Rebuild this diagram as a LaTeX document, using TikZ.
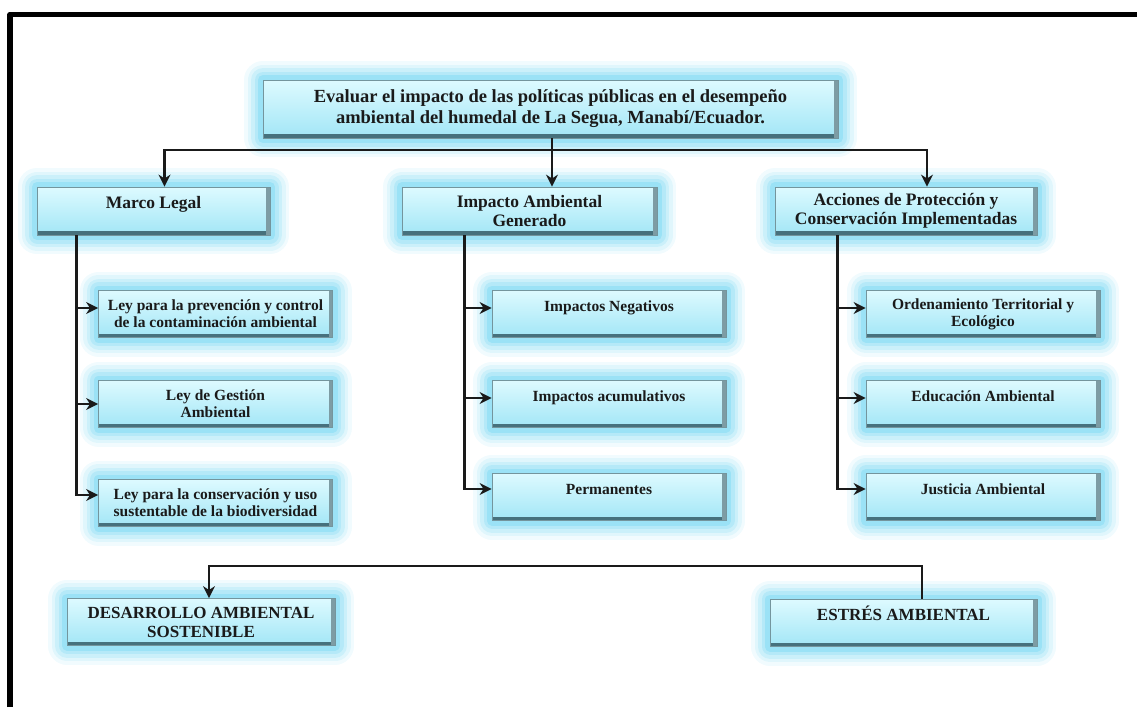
\documentclass[tikz,border=0pt]{standalone}
\usepackage{fontspec}
\setmainfont{Liberation Serif}
\usetikzlibrary{arrows.meta}
\definecolor{cajaA}{HTML}{DDFAFF}
\definecolor{cajaB}{HTML}{A2E6F6}
\definecolor{borde}{HTML}{46717D}
\definecolor{brillo}{HTML}{34C4EC}
\definecolor{tinta}{HTML}{1A1A1A}

\begin{document}
\begin{tikzpicture}[x=1pt, y=-1pt,
  caja/.style={rectangle, inner sep=0pt, align=center, text=tinta,
    top color=cajaA, bottom color=cajaB, draw=borde!75, line width=0.8pt,
    preaction={draw=brillo, draw opacity=.07, line width=38pt, line join=round},
    preaction={draw=brillo, draw opacity=.09, line width=31pt, line join=round},
    preaction={draw=brillo, draw opacity=.12, line width=24pt, line join=round},
    preaction={draw=brillo, draw opacity=.15, line width=17pt, line join=round},
    preaction={draw=brillo, draw opacity=.20, line width=10pt, line join=round},
    path picture={
      \fill[borde] (path picture bounding box.south west) rectangle ([yshift=4pt]path picture bounding box.south east);
      \fill[borde!70] (path picture bounding box.south east) rectangle ([xshift=-4pt]path picture bounding box.north east);}},
  titulo/.style={caja, font=\fontsize{18.5}{21}\selectfont\bfseries},
  rama/.style={caja, minimum height=48pt, font=\fontsize{17.5}{19}\selectfont\bfseries},
  hoja/.style={caja, minimum width=234pt, minimum height=47pt, font=\fontsize{15.5}{17}\selectfont\bfseries},
  final/.style={caja, minimum height=47pt, font=\fontsize{17}{19}\selectfont\bfseries},
  una/.style={text height=11pt, text depth=17pt},
  linea/.style={draw=tinta, line width=2.7pt},
  flecha/.style={linea, -{Stealth[length=12pt, width=12pt]}}]
  \useasboundingbox (0,0) rectangle (1137,707);
  \draw[line width=5.5pt, line join=round] (10,707) |- (1137,14.5);

  \node[titulo, minimum width=575pt, minimum height=58pt] (obj) at (550.5,109)
    {Evaluar el impacto de las políticas públicas en el desempeño\\ambiental del humedal de La Segua, Manabí/Ecuador.};

  \node[rama, una, minimum width=233pt] (marco) at (153.5,211) {Marco Legal};
  \node[rama, minimum width=255pt] (impacto) at (529.5,211) {Impacto Ambiental\\Generado};
  \node[rama, minimum width=262pt] (acciones) at (906,211) {Acciones de Protección y\\Conservación Implementadas};

  \node[hoja] (ley1) at (215.5,314) {Ley para la prevención y control\\de la contaminación ambiental};
  \node[hoja] (ley2) at (215.5,404) {Ley de Gestión\\Ambiental};
  \node[hoja] (ley3) at (215.5,503) {Ley para la conservación y uso\\sustentable de la biodiversidad};

  \node[hoja, una] (imp1) at (609,314) {Impactos Negativos};
  \node[hoja, una] (imp2) at (609,404) {Impactos acumulativos};
  \node[hoja, una] (imp3) at (609,497) {Permanentes};

  \node[hoja] (acc1) at (983,314) {Ordenamiento Territorial y\\Ecológico};
  \node[hoja, una] (acc2) at (983,404) {Educación Ambiental};
  \node[hoja, una] (acc3) at (983,497) {Justicia Ambiental};

  \node[final, minimum width=268pt] (desarrollo) at (201,622) {DESARROLLO AMBIENTAL\\SOSTENIBLE};
  \node[final, una, minimum width=267pt] (estres) at (903.5,623) {ESTRÉS AMBIENTAL};

  \coordinate (cruce) at (552,150);
  \draw[linea] (obj.south -| cruce) -- (cruce);
  \draw[flecha] (cruce) -| ([xshift=11pt]marco.north);
  \draw[flecha] (cruce) -| ([xshift=21pt]acciones.north);
  \draw[flecha] (cruce) -- (impacto.north -| cruce);

  \coordinate (ejeL) at ([xshift=40pt]marco.south west);
  \coordinate (ejeM) at ([xshift=63pt]impacto.south west);
  \coordinate (ejeR) at ([xshift=63pt]acciones.south west);
  \foreach \h/\e in {ley1/ejeL, imp1/ejeM, imp2/ejeM, acc1/ejeR, acc2/ejeR}
    \draw[flecha] ([yshift=6pt]\h.west -| \e) -- ([yshift=6pt]\h.west);
  \draw[flecha] (ley2.west -| ejeL) -- (ley2.west);
  \draw[flecha] (ejeL) |- ([yshift=8pt]ley3.west);
  \draw[flecha] (ejeM) |- ([yshift=8pt]imp3.west);
  \draw[flecha] (ejeR) |- ([yshift=8pt]acc3.west);

  \draw[flecha, {Stealth[length=12pt, width=12pt]}-] ([xshift=8pt]desarrollo.north) -- ++(0,-32) -| ([xshift=18.5pt]estres.north);
\end{tikzpicture}
\end{document}
